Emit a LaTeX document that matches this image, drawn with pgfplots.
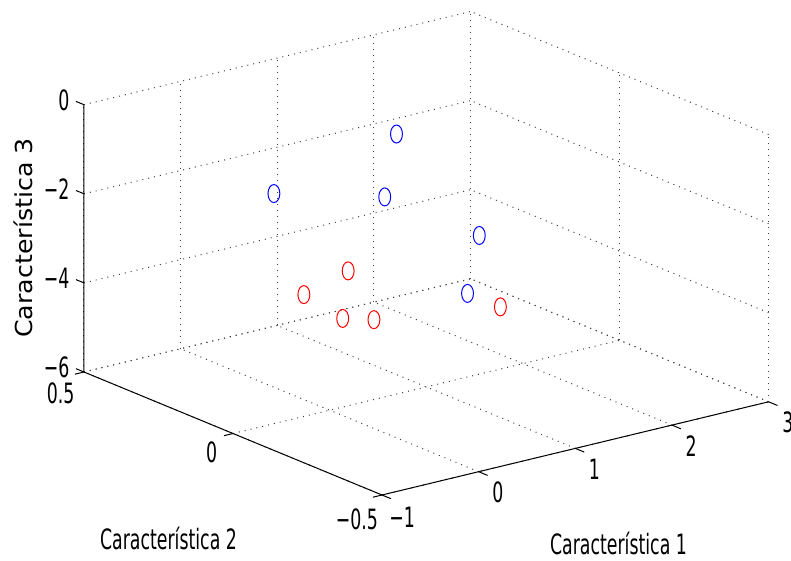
\documentclass[border=0pt]{standalone}
\usepackage{fontspec}
\setmainfont{DejaVu Sans}
\newfontfamily\cond[FakeStretch=0.62]{DejaVu Sans}
\newfontfamily\wide[FakeStretch=1.08]{DejaVu Sans}
\usepackage{pgfplots}
\pgfplotsset{compat=1.18}
\usetikzlibrary{calc}
\begin{document}
\begin{tikzpicture}
\begin{axis}[
 x={(48.325pt,11.65pt)}, y={(-149pt,61.5pt)}, z={(0pt,22.275pt)},
 xmin=-1,xmax=3,ymin=-0.5,ymax=0.5,zmin=-6,zmax=0,
 xtick={-1,0,1,2,3}, ytick={-0.5,0,0.5}, ztick={-6,-4,-2,0},
 xticklabels={−1,0,1,2,3}, yticklabels={−0.5,0,0.5}, zticklabels={−6,−4,−2,0},
 tick pos=left,
 grid=major,
 major grid style={black!75, line width=0.5pt, dash pattern=on 0.5pt off 2.5pt},
 axis line style={draw=none},
 tick align=outside,
 major tick length=4pt,
 tick style={draw=none},
 tick label style={font=\cond\fontsize{14}{14}\selectfont},
 clip=false,
 xlabel={Característica 1}, ylabel={Característica 2}, zlabel={Característica 3},
 every axis x label/.style={at={(axis cs:1.447,-0.5,-8.626)}, anchor=base, font=\cond\fontsize{14}{14}\selectfont, inner sep=0pt},
 every axis y label/.style={at={(axis cs:-1,0.2164,-9.19)}, anchor=base, font=\cond\fontsize{14}{14}\selectfont, inner sep=0pt},
 every axis z label/.style={at={(axis cs:-1.528,0.5,-2.716)}, anchor=base, rotate=90, font=\wide\fontsize{11.7}{11.7}\selectfont, inner sep=0pt},
]
\coordinate (A) at (axis cs:-1,-0.5,-6);
\draw[black, line width=0.5pt] (axis cs:-1,0.5,0) -- (axis cs:-1,0.5,-6) -- (axis cs:-1,-0.5,-6) -- (axis cs:3,-0.5,-6);
% tick marks
\draw[black, line width=0.5pt]
 (axis cs:-1,-0.5,-6) -- (axis cs:-1,-0.53,-6)
 (axis cs:0,-0.5,-6) -- (axis cs:0,-0.53,-6)
 (axis cs:1,-0.5,-6) -- (axis cs:1,-0.53,-6)
 (axis cs:2,-0.5,-6) -- (axis cs:2,-0.53,-6)
 (axis cs:3,-0.5,-6) -- (axis cs:3,-0.53,-6)
 (axis cs:-1,-0.5,-6) -- (axis cs:-1.093,-0.5,-6)
 (axis cs:-1,0,-6) -- (axis cs:-1.093,0,-6)
 (axis cs:-1,0.5,-6) -- (axis cs:-1.093,0.5,-6)
 (axis cs:-1,0.5,-6) -- (axis cs:-1,0.527,-6)
 (axis cs:-1,0.5,-4) -- (axis cs:-1,0.527,-4)
 (axis cs:-1,0.5,-2) -- (axis cs:-1,0.527,-2)
 (axis cs:-1,0.5,0) -- (axis cs:-1,0.527,0);
\addplot3[only marks, mark=o, blue, mark size=4.5pt, mark options={xscale=0.66, line width=0.5pt}] coordinates {
 (1.00,0.1,-0.60) (0.04,0.2,-1.71) (0.57,0,-1.51) (1.24,-0.1,-2.45) (0.81,-0.2,-3.25)};
\addplot3[only marks, mark=o, red, mark size=4.5pt, mark options={xscale=0.66, line width=0.5pt}] coordinates {
 (0.50,0.1,-3.41) (0.35,0.2,-4.14) (0.135,0,-4.01) (0.15,-0.1,-3.77) (1.15,-0.2,-3.73)};
\end{axis}
\pgfresetboundingbox
\path[use as bounding box] ($(A)+(-191pt,-33pt)$) rectangle ($(A)+(204.5pt,247.5pt)$);
\end{tikzpicture}
\end{document}
